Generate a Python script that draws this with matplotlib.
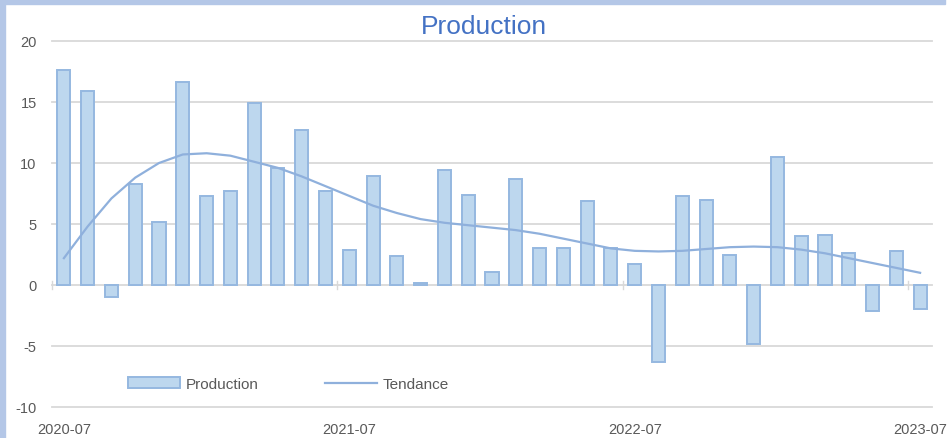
import matplotlib
matplotlib.use("Agg")
import matplotlib.pyplot as plt
from matplotlib.patches import Rectangle
import numpy as np
import pandas as pd

# Monthly categories, 2020-07 .. 2023-07
months = [str(p) for p in pd.period_range("2020-07", "2023-07", freq="M")]

production = [17.6, 15.9, -1.0, 8.3, 5.2, 16.6, 7.3, 7.7, 14.9, 9.6, 12.7, 7.7,
              2.9, 8.9, 2.4, 0.2, 9.4, 7.4, 1.1, 8.7, 3.0, 3.0, 6.9, 3.0,
              1.7, -6.3, 7.3, 7.0, 2.5, -4.8, 10.5, 4.0, 4.1, 2.6, -2.1, 2.8,
              -2.0]

tendance = [2.2, 4.8, 7.1, 8.8, 10.0, 10.7, 10.8, 10.6, 10.1, 9.6, 8.9, 8.1,
            7.3, 6.5, 5.9, 5.4, 5.1, 4.9, 4.7, 4.5, 4.2, 3.8, 3.4, 3.0,
            2.8, 2.75, 2.8, 2.95, 3.1, 3.15, 3.1, 2.9, 2.6, 2.2, 1.8, 1.4,
            1.0]

label_months = ["2020-07", "2021-07", "2022-07", "2023-07"]
y_ticks = [-10, -5, 0, 5, 10, 15, 20]

plt.rcParams["font.family"] = ["Liberation Sans", "DejaVu Sans"]
text_gray = "#595959"
grid_gray = "#D9D9D9"

fig = plt.figure(figsize=(9.48, 4.39), dpi=100)
ax = fig.add_axes([52 / 948, 1 - 408 / 439, 880 / 948, 366 / 439])

x = np.arange(len(months))
bars = ax.bar(x, production, width=0.55, color="#BDD7EE", edgecolor="#95B8E0",
              linewidth=1.4, label="Production", zorder=3)
line, = ax.plot(x, tendance, color="#8FB0DC", linewidth=1.6, label="Tendance", zorder=4)

ax.set_xlim(-0.5, len(months) - 0.5)
ax.set_ylim(-10, 20)
ax.set_yticks(y_ticks)
ax.set_yticklabels([str(v) for v in y_ticks])
ax.yaxis.grid(True, color=grid_gray, linewidth=1.3, zorder=0)
for gl in ax.get_ygridlines():
    gl.set_clip_on(False)
ax.set_axisbelow(True)

ax.set_xticks([months.index(m) for m in label_months])
ax.set_xticklabels(label_months)
ax.tick_params(axis="both", length=0, colors=text_gray, labelsize=10.5)
ax.tick_params(axis="y", pad=11)
ax.tick_params(axis="x", pad=11)
for s in ax.spines.values():
    s.set_visible(False)

# small tick marks on the zero line at yearly category boundaries
for m in label_months:
    b = months.index(m) - 0.5
    ax.plot([b, b], [-0.35, 0.35], color=grid_gray, linewidth=1.0,
            clip_on=False, zorder=2)

leg = ax.legend([bars, line], ["Production", "Tendance"],
                loc="center left", bbox_to_anchor=((128 - 52) / 880, (408 - 385) / 366),
                ncol=2, frameon=False, borderpad=0, borderaxespad=0,
                handlelength=3.4, handletextpad=0.4, columnspacing=4.3,
                fontsize=11)
for t in leg.get_texts():
    t.set_color(text_gray)

fig.text(484 / 948, 1 - 27 / 439, "Production", color="#4472C4", fontsize=19,
         ha="center", va="center")

# frame border (left and top)
border = "#B4C7E7"
fig.patches.append(Rectangle((0, 0), 5 / 948, 1, transform=fig.transFigure,
                             color=border, zorder=0))
fig.patches.append(Rectangle((0, 1 - 5 / 439), 945 / 948, 5 / 439,
                             transform=fig.transFigure, color=border, zorder=0))

fig.savefig("out.png", dpi=100)
